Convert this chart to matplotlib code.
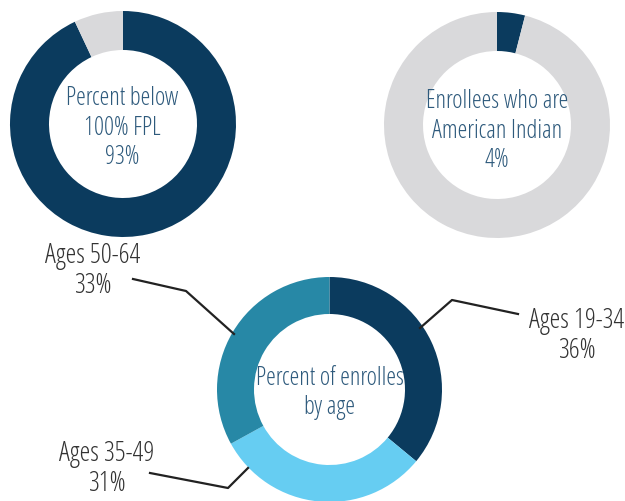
import matplotlib.pyplot as plt

# data
fpl_values = [93, 7]
ai_values = [4, 96]
age_labels = ["Ages 19-34", "Ages 35-49", "Ages 50-64"]
age_values = [36, 31, 33]

navy = "#0b3b5e"
grey = "#d9d9db"
teal = "#2788a6"
light = "#66cdf2"
txt_blue = "#2e5a7c"
txt_dark = "#333333"

W, H = 625, 501
fig = plt.figure(figsize=(W / 100, H / 100), dpi=100)
ax = fig.add_axes([0, 0, 1, 1])
ax.axis("off")

# Open Sans Condensed Light
font = dict(family=["Open Sans", "DejaVu Sans"], weight=300, fontstretch="condensed")


def donut(vals, colors, cx, cy, r, w):
    ax.pie(vals, colors=colors, center=(cx, H - cy), radius=r, startangle=90,
           counterclock=False, wedgeprops=dict(width=w, linewidth=0))


donut(fpl_values, [navy, grey], 123, 124, 113, 39)
donut(ai_values, [navy, grey], 497, 125, 113, 39)
donut(age_values, [navy, light, teal], 329.5, 389.5, 112.5, 37)

ax.set_xlim(0, W)
ax.set_ylim(0, H)
ax.set_aspect("equal")

ax.text(122, H - 128, f"Percent below\n100% FPL\n{fpl_values[0]}%", ha="center",
        va="center", color=txt_blue, linespacing=1.25, fontsize=17.8, **font)
ax.text(497, H - 131, f"Enrollees who are\nAmerican Indian\n{ai_values[0]}%", ha="center",
        va="center", color=txt_blue, linespacing=1.25, fontsize=17.8, **font)
ax.text(329.5, H - 393, "Percent of enrolles\nby age", ha="center",
        va="center", color=txt_blue, linespacing=1.25, fontsize=17.8, **font)

# leader lines
lines = [
    [(420, 328), (452, 300), (518, 314)],
    [(248, 468), (228, 488), (150, 473)],
    [(234, 334), (186, 291), (133, 279)],
]
for pts in lines:
    ax.plot([p[0] for p in pts], [H - p[1] for p in pts], color="#222222", lw=1.6)

label_pos = [(577, 336), (107, 469), (93, 271)]
for lab, v, (x, y) in zip(age_labels, age_values, label_pos):
    ax.text(x, H - y, f"{lab}\n{v}%", ha="center", va="center", color=txt_dark,
            linespacing=1.05, fontsize=19.5, **font)

fig.savefig("out.png", dpi=100)
